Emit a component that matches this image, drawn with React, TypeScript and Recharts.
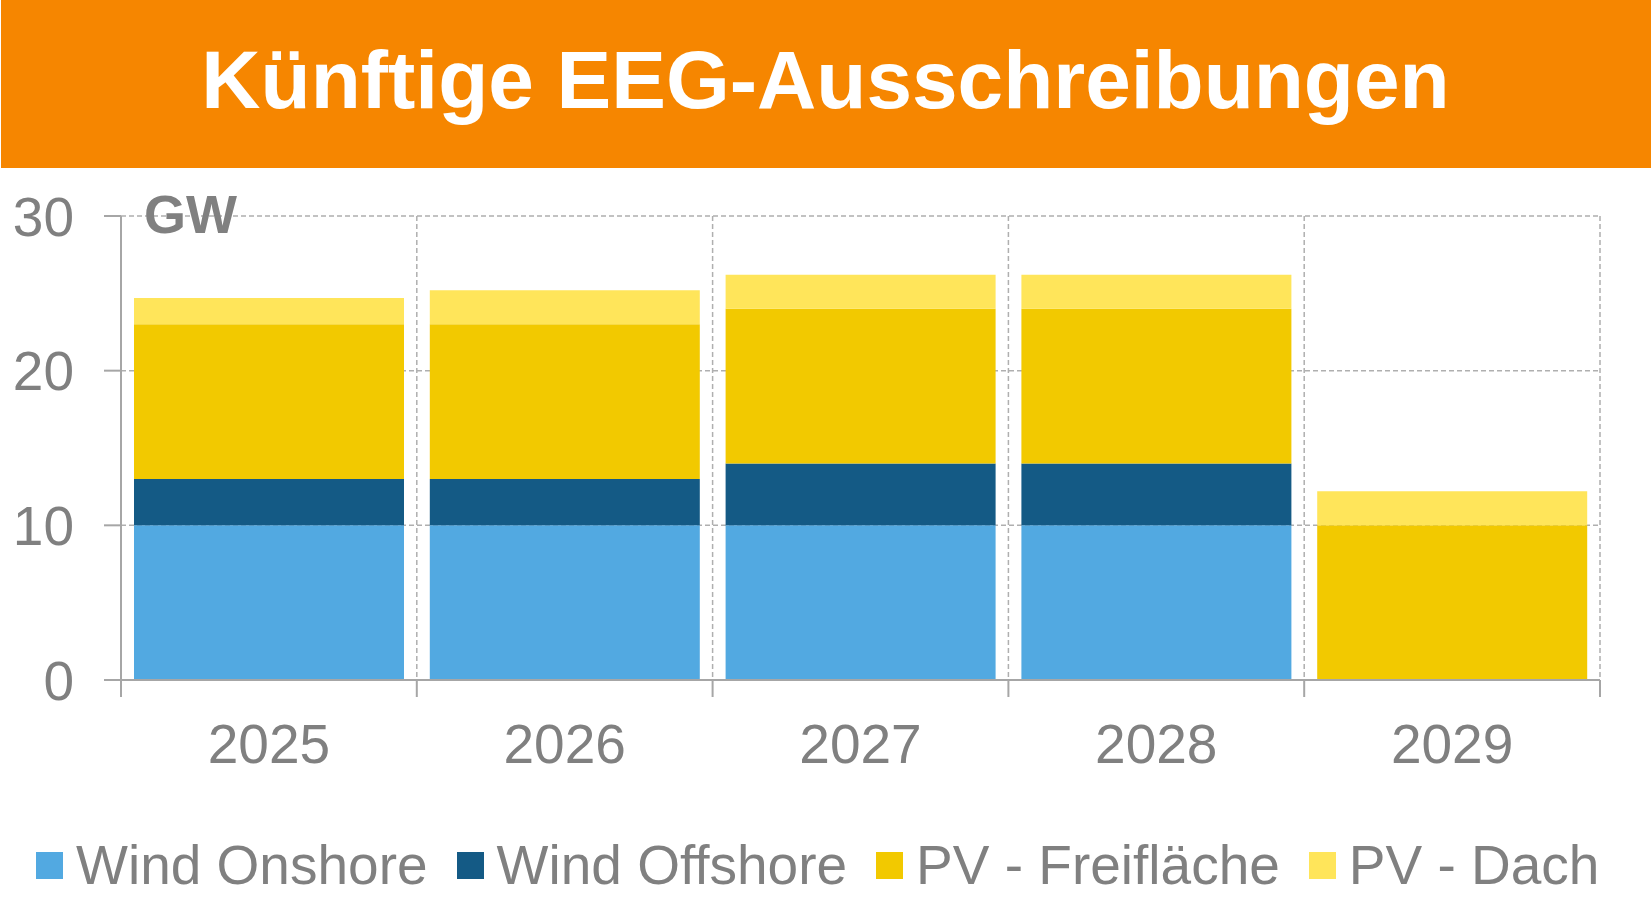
import React from "react";
import { BarChart, Bar, XAxis, YAxis, CartesianGrid } from "recharts";

const years = ["2025", "2026", "2027", "2028", "2029"];
const windOnshore = [10, 10, 10, 10, 0];
const windOffshore = [3, 3, 4, 4, 0];
const pvFreiflaeche = [10, 10, 10, 10, 10];
const pvDach = [1.7, 2.2, 2.2, 2.2, 2.2];
const yTicks = [0, 10, 20, 30];

const series = [
  { key: "onshore", name: "Wind Onshore", color: "#52A9E1", values: windOnshore },
  { key: "offshore", name: "Wind Offshore", color: "#145A85", values: windOffshore },
  { key: "frei", name: "PV - Freifläche", color: "#F2C900", values: pvFreiflaeche },
  { key: "dach", name: "PV - Dach", color: "#FFE55A", values: pvDach },
];

const data = years.map((year, i) => {
  const row: Record<string, string | number> = { year };
  series.forEach((s) => (row[s.key] = s.values[i]));
  return row;
});

const FONT = "'Liberation Sans', Arial, sans-serif";
const GREY = "#808080";
const AXIS = "#A6A6A6";

// grid lines between categories, taken from the band scale
const boundaryLines = ({ xAxis, offset }: any) => {
  try {
    const scale = xAxis && xAxis.scale;
    const at = typeof scale === "function" ? scale : (v: string) => scale.map(v);
    const bw = typeof scale.bandwidth === "function" ? scale.bandwidth() : NaN;
    const xs = years.map((y) => at(y));
    const out = [...xs, xs[xs.length - 1] + bw];
    if (out.every((v) => Number.isFinite(v))) return out;
  } catch (e) {
    // fall through
  }
  const step = offset.width / years.length;
  return [...years.map((_, i) => offset.left + i * step), offset.left + offset.width];
};

// year label plus the tick marks on the category boundaries
const YearTick = ({ x, y, payload, index, visibleTicksCount, width }: any) => {
  const half = payload && payload.offset ? payload.offset : width / (years.length * 2);
  const last = index === (visibleTicksCount ?? years.length) - 1;
  return (
    <g>
      <line x1={x - half} x2={x - half} y1={y} y2={y + 17} stroke={AXIS} strokeWidth={2} />
      {last && <line x1={x + half} x2={x + half} y1={y} y2={y + 17} stroke={AXIS} strokeWidth={2} />}
      <text x={x} y={y + 83} textAnchor="middle" fill={GREY} fontSize={55} fontFamily={FONT}>
        {payload.value}
      </text>
    </g>
  );
};

export default function App() {
  return (
    <div style={{ position: "fixed", left: 0, top: 0, width: 1651, height: 918, background: "#fff", fontFamily: FONT, overflow: "hidden" }}>
      <div style={{ position: "absolute", left: 1, top: 0, width: 1650, height: 168, background: "#F68600" }} />
      <div style={{
        position: "absolute", left: 0, top: 38, width: 1651, textAlign: "center",
        color: "#fff", fontWeight: 700, fontSize: 82, lineHeight: "83px",
      }}>
        Künftige EEG-Ausschreibungen
      </div>

      <div style={{ position: "absolute", left: 0, top: 0 }}>
        <BarChart
          width={1651}
          height={918}
          data={data}
          barCategoryGap={13}
          margin={{ top: 216, right: 51, left: 0, bottom: 178 }}
        >
          <CartesianGrid
            stroke="#AFAFAF"
            strokeWidth={1.5}
            strokeDasharray="5 3"
            verticalCoordinatesGenerator={boundaryLines}
          />
          <XAxis
            dataKey="year"
            height={60}
            interval={0}
            axisLine={{ stroke: AXIS, strokeWidth: 2 }}
            tickLine={false}
            tickSize={0}
            tickMargin={0}
            tick={<YearTick />}
          />
          <YAxis
            domain={[0, 30]}
            ticks={yTicks}
            width={121}
            tickSize={17}
            tickMargin={30}
            axisLine={{ stroke: AXIS, strokeWidth: 2 }}
            tickLine={{ stroke: AXIS, strokeWidth: 2 }}
            tick={{ fill: GREY, fontSize: 55, fontFamily: FONT }}
          />
          {series.map((s) => (
            <Bar
              key={s.key}
              dataKey={s.key}
              name={s.name}
              stackId="a"
              fill={s.color}
              isAnimationActive={false}
            />
          ))}
        </BarChart>
      </div>

      <div style={{
        position: "absolute", left: 144, top: 187, color: GREY,
        fontWeight: 700, fontSize: 54, lineHeight: "54px",
      }}>
        GW
      </div>

      <div style={{
        position: "absolute", left: 36, top: 834, height: 63,
        display: "flex", alignItems: "center", gap: 29,
      }}>
        {series.map((s) => (
          <div key={s.key} style={{ display: "flex", alignItems: "center" }}>
            <div style={{ width: 27, height: 27, background: s.color, marginRight: 13 }} />
            <span style={{ color: GREY, fontSize: 55, lineHeight: "63px", whiteSpace: "nowrap" }}>{s.name}</span>
          </div>
        ))}
      </div>
    </div>
  );
}
